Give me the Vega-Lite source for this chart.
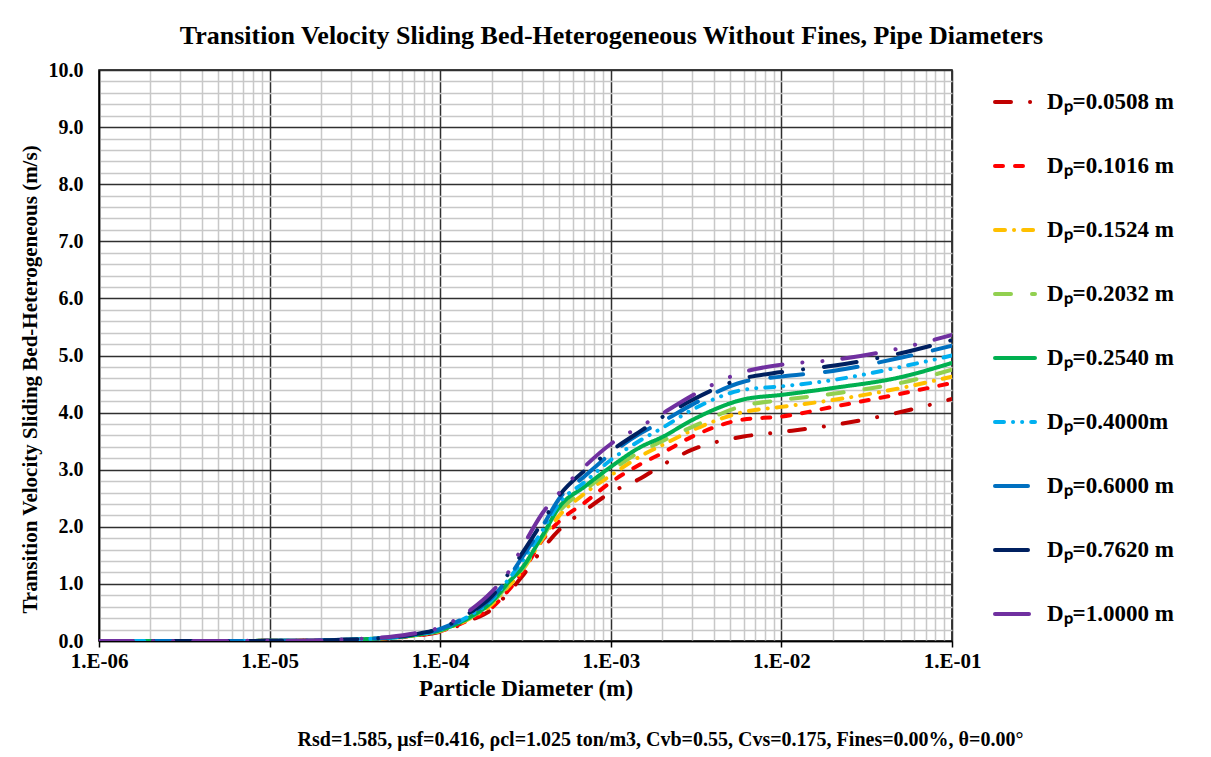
{
  "$schema": "https://vega.github.io/schema/vega-lite/v6.json",
  "width": 853,
  "height": 571,
  "autosize": {"type": "none"},
  "padding": {"left": 99, "top": 70, "right": 259, "bottom": 116},
  "background": "white",
  "config": {
    "font": "Liberation Serif",
    "view": {"stroke": "black", "strokeWidth": 1.5}
  },
  "title": {
    "text": "Transition  Velocity Sliding  Bed-Heterogeneous Without  Fines, Pipe Diameters",
    "font": "Liberation Serif", "fontSize": 26, "fontWeight": "bold", "color": "black",
    "anchor": "middle", "dx": 86, "offset": 11
  },
  "data": {"values": [
    {"p":"0.0508 m","d":1e-6,"v":0},{"p":"0.0508 m","d":3e-6,"v":0},{"p":"0.0508 m","d":1e-5,"v":0.003},{"p":"0.0508 m","d":2e-5,"v":0.01},{"p":"0.0508 m","d":3e-5,"v":0.022},{"p":"0.0508 m","d":5e-5,"v":0.05},{"p":"0.0508 m","d":7e-5,"v":0.09},{"p":"0.0508 m","d":1e-4,"v":0.16},{"p":"0.0508 m","d":1.5e-4,"v":0.36},{"p":"0.0508 m","d":2e-4,"v":0.55},{"p":"0.0508 m","d":2.5e-4,"v":0.84},{"p":"0.0508 m","d":3e-4,"v":1.12},{"p":"0.0508 m","d":4e-4,"v":1.62},{"p":"0.0508 m","d":5e-4,"v":1.95},{"p":"0.0508 m","d":7e-4,"v":2.28},{"p":"0.0508 m","d":1e-3,"v":2.6},{"p":"0.0508 m","d":1.5e-3,"v":2.85},{"p":"0.0508 m","d":2e-3,"v":3.08},{"p":"0.0508 m","d":3e-3,"v":3.35},{"p":"0.0508 m","d":6e-3,"v":3.58},{"p":"0.0508 m","d":1e-2,"v":3.66},{"p":"0.0508 m","d":2e-2,"v":3.78},{"p":"0.0508 m","d":5e-2,"v":4.01},{"p":"0.0508 m","d":1e-1,"v":4.24},
    {"p":"0.1016 m","d":1e-6,"v":0},{"p":"0.1016 m","d":3e-6,"v":0},{"p":"0.1016 m","d":1e-5,"v":0.003},{"p":"0.1016 m","d":2e-5,"v":0.01},{"p":"0.1016 m","d":3e-5,"v":0.022},{"p":"0.1016 m","d":5e-5,"v":0.051},{"p":"0.1016 m","d":7e-5,"v":0.092},{"p":"0.1016 m","d":1e-4,"v":0.17},{"p":"0.1016 m","d":1.5e-4,"v":0.38},{"p":"0.1016 m","d":2e-4,"v":0.58},{"p":"0.1016 m","d":2.5e-4,"v":0.88},{"p":"0.1016 m","d":3e-4,"v":1.18},{"p":"0.1016 m","d":4e-4,"v":1.78},{"p":"0.1016 m","d":5e-4,"v":2.1},{"p":"0.1016 m","d":7e-4,"v":2.42},{"p":"0.1016 m","d":1e-3,"v":2.78},{"p":"0.1016 m","d":1.5e-3,"v":3.1},{"p":"0.1016 m","d":2e-3,"v":3.29},{"p":"0.1016 m","d":3e-3,"v":3.58},{"p":"0.1016 m","d":6e-3,"v":3.88},{"p":"0.1016 m","d":1e-2,"v":3.93},{"p":"0.1016 m","d":2e-2,"v":4.1},{"p":"0.1016 m","d":5e-2,"v":4.33},{"p":"0.1016 m","d":1e-1,"v":4.52},
    {"p":"0.1524 m","d":1e-6,"v":0},{"p":"0.1524 m","d":3e-6,"v":0},{"p":"0.1524 m","d":1e-5,"v":0.003},{"p":"0.1524 m","d":2e-5,"v":0.01},{"p":"0.1524 m","d":3e-5,"v":0.023},{"p":"0.1524 m","d":5e-5,"v":0.053},{"p":"0.1524 m","d":7e-5,"v":0.096},{"p":"0.1524 m","d":1e-4,"v":0.18},{"p":"0.1524 m","d":1.5e-4,"v":0.4},{"p":"0.1524 m","d":2e-4,"v":0.64},{"p":"0.1524 m","d":2.5e-4,"v":0.95},{"p":"0.1524 m","d":3e-4,"v":1.22},{"p":"0.1524 m","d":4e-4,"v":1.8},{"p":"0.1524 m","d":5e-4,"v":2.2},{"p":"0.1524 m","d":7e-4,"v":2.58},{"p":"0.1524 m","d":1e-3,"v":2.9},{"p":"0.1524 m","d":1.5e-3,"v":3.24},{"p":"0.1524 m","d":2e-3,"v":3.43},{"p":"0.1524 m","d":3e-3,"v":3.69},{"p":"0.1524 m","d":6e-3,"v":4.01},{"p":"0.1524 m","d":1e-2,"v":4.1},{"p":"0.1524 m","d":2e-2,"v":4.22},{"p":"0.1524 m","d":5e-2,"v":4.43},{"p":"0.1524 m","d":1e-1,"v":4.63},
    {"p":"0.2032 m","d":1e-6,"v":0},{"p":"0.2032 m","d":3e-6,"v":0},{"p":"0.2032 m","d":1e-5,"v":0.003},{"p":"0.2032 m","d":2e-5,"v":0.01},{"p":"0.2032 m","d":3e-5,"v":0.023},{"p":"0.2032 m","d":5e-5,"v":0.054},{"p":"0.2032 m","d":7e-5,"v":0.098},{"p":"0.2032 m","d":1e-4,"v":0.18},{"p":"0.2032 m","d":1.5e-4,"v":0.41},{"p":"0.2032 m","d":2e-4,"v":0.66},{"p":"0.2032 m","d":2.5e-4,"v":0.98},{"p":"0.2032 m","d":3e-4,"v":1.24},{"p":"0.2032 m","d":4e-4,"v":1.83},{"p":"0.2032 m","d":5e-4,"v":2.27},{"p":"0.2032 m","d":7e-4,"v":2.64},{"p":"0.2032 m","d":1e-3,"v":2.98},{"p":"0.2032 m","d":1.5e-3,"v":3.32},{"p":"0.2032 m","d":2e-3,"v":3.5},{"p":"0.2032 m","d":3e-3,"v":3.75},{"p":"0.2032 m","d":6e-3,"v":4.12},{"p":"0.2032 m","d":1e-2,"v":4.22},{"p":"0.2032 m","d":2e-2,"v":4.33},{"p":"0.2032 m","d":5e-2,"v":4.52},{"p":"0.2032 m","d":1e-1,"v":4.75},
    {"p":"0.2540 m","d":1e-6,"v":0},{"p":"0.2540 m","d":3e-6,"v":0},{"p":"0.2540 m","d":1e-5,"v":0.003},{"p":"0.2540 m","d":2e-5,"v":0.01},{"p":"0.2540 m","d":3e-5,"v":0.024},{"p":"0.2540 m","d":5e-5,"v":0.055},{"p":"0.2540 m","d":7e-5,"v":0.1},{"p":"0.2540 m","d":1e-4,"v":0.19},{"p":"0.2540 m","d":1.5e-4,"v":0.42},{"p":"0.2540 m","d":2e-4,"v":0.68},{"p":"0.2540 m","d":2.5e-4,"v":1.02},{"p":"0.2540 m","d":3e-4,"v":1.27},{"p":"0.2540 m","d":4e-4,"v":1.86},{"p":"0.2540 m","d":5e-4,"v":2.35},{"p":"0.2540 m","d":7e-4,"v":2.7},{"p":"0.2540 m","d":1e-3,"v":3.05},{"p":"0.2540 m","d":1.5e-3,"v":3.4},{"p":"0.2540 m","d":2e-3,"v":3.57},{"p":"0.2540 m","d":3e-3,"v":3.87},{"p":"0.2540 m","d":6e-3,"v":4.23},{"p":"0.2540 m","d":1e-2,"v":4.31},{"p":"0.2540 m","d":2e-2,"v":4.43},{"p":"0.2540 m","d":5e-2,"v":4.62},{"p":"0.2540 m","d":1e-1,"v":4.87},
    {"p":"0.4000m","d":1e-6,"v":0},{"p":"0.4000m","d":3e-6,"v":0},{"p":"0.4000m","d":1e-5,"v":0.003},{"p":"0.4000m","d":2e-5,"v":0.01},{"p":"0.4000m","d":3e-5,"v":0.025},{"p":"0.4000m","d":5e-5,"v":0.057},{"p":"0.4000m","d":7e-5,"v":0.105},{"p":"0.4000m","d":1e-4,"v":0.2},{"p":"0.4000m","d":1.5e-4,"v":0.45},{"p":"0.4000m","d":2e-4,"v":0.72},{"p":"0.4000m","d":2.5e-4,"v":1.07},{"p":"0.4000m","d":3e-4,"v":1.38},{"p":"0.4000m","d":4e-4,"v":1.95},{"p":"0.4000m","d":5e-4,"v":2.42},{"p":"0.4000m","d":7e-4,"v":2.78},{"p":"0.4000m","d":1e-3,"v":3.17},{"p":"0.4000m","d":1.5e-3,"v":3.52},{"p":"0.4000m","d":2e-3,"v":3.73},{"p":"0.4000m","d":3e-3,"v":4.05},{"p":"0.4000m","d":6e-3,"v":4.4},{"p":"0.4000m","d":1e-2,"v":4.46},{"p":"0.4000m","d":2e-2,"v":4.57},{"p":"0.4000m","d":5e-2,"v":4.8},{"p":"0.4000m","d":1e-1,"v":5.0},
    {"p":"0.6000 m","d":1e-6,"v":0},{"p":"0.6000 m","d":3e-6,"v":0},{"p":"0.6000 m","d":1e-5,"v":0.003},{"p":"0.6000 m","d":2e-5,"v":0.01},{"p":"0.6000 m","d":3e-5,"v":0.026},{"p":"0.6000 m","d":5e-5,"v":0.06},{"p":"0.6000 m","d":7e-5,"v":0.11},{"p":"0.6000 m","d":1e-4,"v":0.21},{"p":"0.6000 m","d":1.5e-4,"v":0.47},{"p":"0.6000 m","d":2e-4,"v":0.75},{"p":"0.6000 m","d":2.5e-4,"v":1.1},{"p":"0.6000 m","d":3e-4,"v":1.45},{"p":"0.6000 m","d":4e-4,"v":2.02},{"p":"0.6000 m","d":5e-4,"v":2.5},{"p":"0.6000 m","d":7e-4,"v":2.88},{"p":"0.6000 m","d":1e-3,"v":3.28},{"p":"0.6000 m","d":1.5e-3,"v":3.64},{"p":"0.6000 m","d":2e-3,"v":3.84},{"p":"0.6000 m","d":3e-3,"v":4.14},{"p":"0.6000 m","d":6e-3,"v":4.54},{"p":"0.6000 m","d":1e-2,"v":4.63},{"p":"0.6000 m","d":2e-2,"v":4.73},{"p":"0.6000 m","d":5e-2,"v":4.96},{"p":"0.6000 m","d":1e-1,"v":5.17},
    {"p":"0.7620 m","d":1e-6,"v":0},{"p":"0.7620 m","d":3e-6,"v":0},{"p":"0.7620 m","d":1e-5,"v":0.003},{"p":"0.7620 m","d":2e-5,"v":0.01},{"p":"0.7620 m","d":3e-5,"v":0.027},{"p":"0.7620 m","d":5e-5,"v":0.063},{"p":"0.7620 m","d":7e-5,"v":0.115},{"p":"0.7620 m","d":1e-4,"v":0.22},{"p":"0.7620 m","d":1.5e-4,"v":0.5},{"p":"0.7620 m","d":2e-4,"v":0.78},{"p":"0.7620 m","d":2.5e-4,"v":1.17},{"p":"0.7620 m","d":3e-4,"v":1.52},{"p":"0.7620 m","d":4e-4,"v":2.1},{"p":"0.7620 m","d":5e-4,"v":2.55},{"p":"0.7620 m","d":7e-4,"v":2.98},{"p":"0.7620 m","d":1e-3,"v":3.33},{"p":"0.7620 m","d":1.5e-3,"v":3.68},{"p":"0.7620 m","d":2e-3,"v":3.92},{"p":"0.7620 m","d":3e-3,"v":4.22},{"p":"0.7620 m","d":6e-3,"v":4.6},{"p":"0.7620 m","d":1e-2,"v":4.71},{"p":"0.7620 m","d":2e-2,"v":4.82},{"p":"0.7620 m","d":5e-2,"v":5.04},{"p":"0.7620 m","d":1e-1,"v":5.27},
    {"p":"1.0000 m","d":1e-6,"v":0},{"p":"1.0000 m","d":3e-6,"v":0},{"p":"1.0000 m","d":1e-5,"v":0.004},{"p":"1.0000 m","d":2e-5,"v":0.013},{"p":"1.0000 m","d":3e-5,"v":0.032},{"p":"1.0000 m","d":5e-5,"v":0.072},{"p":"1.0000 m","d":7e-5,"v":0.13},{"p":"1.0000 m","d":1e-4,"v":0.24},{"p":"1.0000 m","d":1.5e-4,"v":0.54},{"p":"1.0000 m","d":2e-4,"v":0.86},{"p":"1.0000 m","d":2.5e-4,"v":1.2},{"p":"1.0000 m","d":3e-4,"v":1.62},{"p":"1.0000 m","d":4e-4,"v":2.25},{"p":"1.0000 m","d":5e-4,"v":2.6},{"p":"1.0000 m","d":7e-4,"v":3.05},{"p":"1.0000 m","d":1e-3,"v":3.45},{"p":"1.0000 m","d":1.5e-3,"v":3.76},{"p":"1.0000 m","d":2e-3,"v":3.98},{"p":"1.0000 m","d":3e-3,"v":4.3},{"p":"1.0000 m","d":6e-3,"v":4.71},{"p":"1.0000 m","d":1e-2,"v":4.84},{"p":"1.0000 m","d":2e-2,"v":4.92},{"p":"1.0000 m","d":5e-2,"v":5.13},{"p":"1.0000 m","d":1e-1,"v":5.36}
  ]},
  "layer": [
    {
      "mark": {"type": "line", "strokeWidth": 4, "strokeCap": "round", "strokeJoin": "round", "interpolate": "monotone", "clip": true},
      "encoding": {
        "x": {
          "field": "d", "type": "quantitative",
          "scale": {"type": "log", "domain": [1e-6, 0.1], "nice": false},
          "axis": {
            "values": [1e-6,2e-6,3e-6,4e-6,5e-6,6e-6,7e-6,8e-6,9e-6,1e-5,2e-5,3e-5,4e-5,5e-5,6e-5,7e-5,8e-5,9e-5,1e-4,2e-4,3e-4,4e-4,5e-4,6e-4,7e-4,8e-4,9e-4,1e-3,2e-3,3e-3,4e-3,5e-3,6e-3,7e-3,8e-3,9e-3,1e-2,2e-2,3e-2,4e-2,5e-2,6e-2,7e-2,8e-2,9e-2,1e-1],
            "grid": true,
            "gridColor": {"condition": {"test": "abs(log(datum.value)/LN10 - round(log(datum.value)/LN10)) < 0.01", "value": "#303030"}, "value": "#c8c8c8"},
            "gridWidth": 1.5,
            "ticks": true, "tickSize": 6, "tickWidth": 1.5,
            "tickColor": {"condition": {"test": "abs(log(datum.value)/LN10 - round(log(datum.value)/LN10)) < 0.01", "value": "black"}, "value": "transparent"},
            "labelExpr": "abs(log(datum.value)/LN10 - round(log(datum.value)/LN10)) < 0.01 ? '1.E-0' + round(-log(datum.value)/LN10) : ''",
            "labelOverlap": false, "labelBound": false, "labelFlush": false,
            "labelFont": "Liberation Serif", "labelFontSize": 21, "labelFontWeight": "bold", "labelColor": "black", "labelPadding": 3,
            "domainColor": "black", "domainWidth": 1.5,
            "title": "Particle Diameter (m)", "titleFont": "Liberation Serif", "titleFontSize": 23, "titleFontWeight": "bold", "titleColor": "black", "titlePadding": 6
          }
        },
        "y": {
          "field": "v", "type": "quantitative",
          "scale": {"domain": [0, 10], "nice": false},
          "axis": {
            "values": [0,0.2,0.4,0.6,0.8,1,1.2,1.4,1.6,1.8,2,2.2,2.4,2.6,2.8,3,3.2,3.4,3.6,3.8,4,4.2,4.4,4.6,4.8,5,5.2,5.4,5.6,5.8,6,6.2,6.4,6.6,6.8,7,7.2,7.4,7.6,7.8,8,8.2,8.4,8.6,8.8,9,9.2,9.4,9.6,9.8,10],
            "grid": true,
            "gridColor": {"condition": {"test": "abs(datum.value - round(datum.value)) < 0.01", "value": "#303030"}, "value": "#c8c8c8"},
            "gridWidth": 1.5,
            "ticks": false, "tickSize": 0,
            "labelExpr": "abs(datum.value - round(datum.value)) < 0.01 ? format(datum.value, '.1f') : ''",
            "labelOverlap": false, "labelBound": false, "labelFlush": false,
            "labelFont": "Liberation Serif", "labelFontSize": 20, "labelFontWeight": "bold", "labelColor": "black", "labelPadding": 16,
            "domainColor": "black", "domainWidth": 1.5,
            "title": "Transition Velocity Sliding  Bed-Heterogeneous (m/s)", "titleFont": "Liberation Serif", "titleFontSize": 21, "titleFontWeight": "bold", "titleColor": "black", "titlePadding": 8, "titleY": 309
          }
        },
        "color": {
          "field": "p", "type": "nominal",
          "scale": {
            "domain": ["0.0508 m","0.1016 m","0.1524 m","0.2032 m","0.2540 m","0.4000m","0.6000 m","0.7620 m","1.0000 m"],
            "range": ["#C00000","#FF0000","#FFC000","#92D050","#00B050","#00B0F0","#0070C0","#002060","#7030A0"]
          },
          "legend": {
            "title": null, "orient": "none", "legendX": 894, "legendY": 10,
            "symbolType": "stroke", "symbolSize": 1600, "symbolStrokeWidth": 4,
            "labelFont": "Liberation Serif", "labelFontSize": 23, "labelFontWeight": "bold", "labelColor": "black",
            "labelOffset": 10, "rowPadding": 30, "labelLimit": 300,
            "labelExpr": "'Dₚ=' + datum.label",
            "encode": {"symbols": {"update": {"strokeCap": {"value": "round"}}}}
          }
        },
        "strokeDash": {
          "field": "p", "type": "nominal",
          "scale": {
            "domain": ["0.0508 m","0.1016 m","0.1524 m","0.2032 m","0.2540 m","0.4000m","0.6000 m","0.7620 m","1.0000 m"],
            "range": [[16,19,0.1,19],[8,12],[10,9,0.1,9],[16,21],[1,0],[9,9,0.1,9,0.1,9],[33,22],[33,21,0.1,21],[34,20,0.1,20,0.1,20]]
          },
          "legend": {
            "title": null, "orient": "none", "legendX": 894, "legendY": 10,
            "symbolType": "stroke", "symbolSize": 1600, "symbolStrokeWidth": 4,
            "labelFont": "Liberation Serif", "labelFontSize": 23, "labelFontWeight": "bold", "labelColor": "black",
            "labelOffset": 10, "rowPadding": 30, "labelLimit": 300,
            "labelExpr": "'Dₚ=' + datum.label",
            "encode": {"symbols": {"update": {"strokeCap": {"value": "round"}}}}
          }
        }
      }
    },
    {
      "mark": {"type": "point", "opacity": 0},
      "encoding": {
        "x": {
          "field": "d", "type": "quantitative",
          "axis": {
            "orient": "bottom", "labels": false, "ticks": false, "domain": false, "grid": false,
            "title": "Rsd=1.585, μsf=0.416, ρcl=1.025 ton/m3, Cvb=0.55,  Cvs=0.175, Fines=0.00%, θ=0.00°",
            "titleFont": "Liberation Serif", "titleFontSize": 20, "titleFontWeight": "bold", "titleColor": "black",
            "titlePadding": 88, "titleX": 561
          }
        }
      }
    }
  ],
  "resolve": {"axis": {"x": "independent"}}
}
